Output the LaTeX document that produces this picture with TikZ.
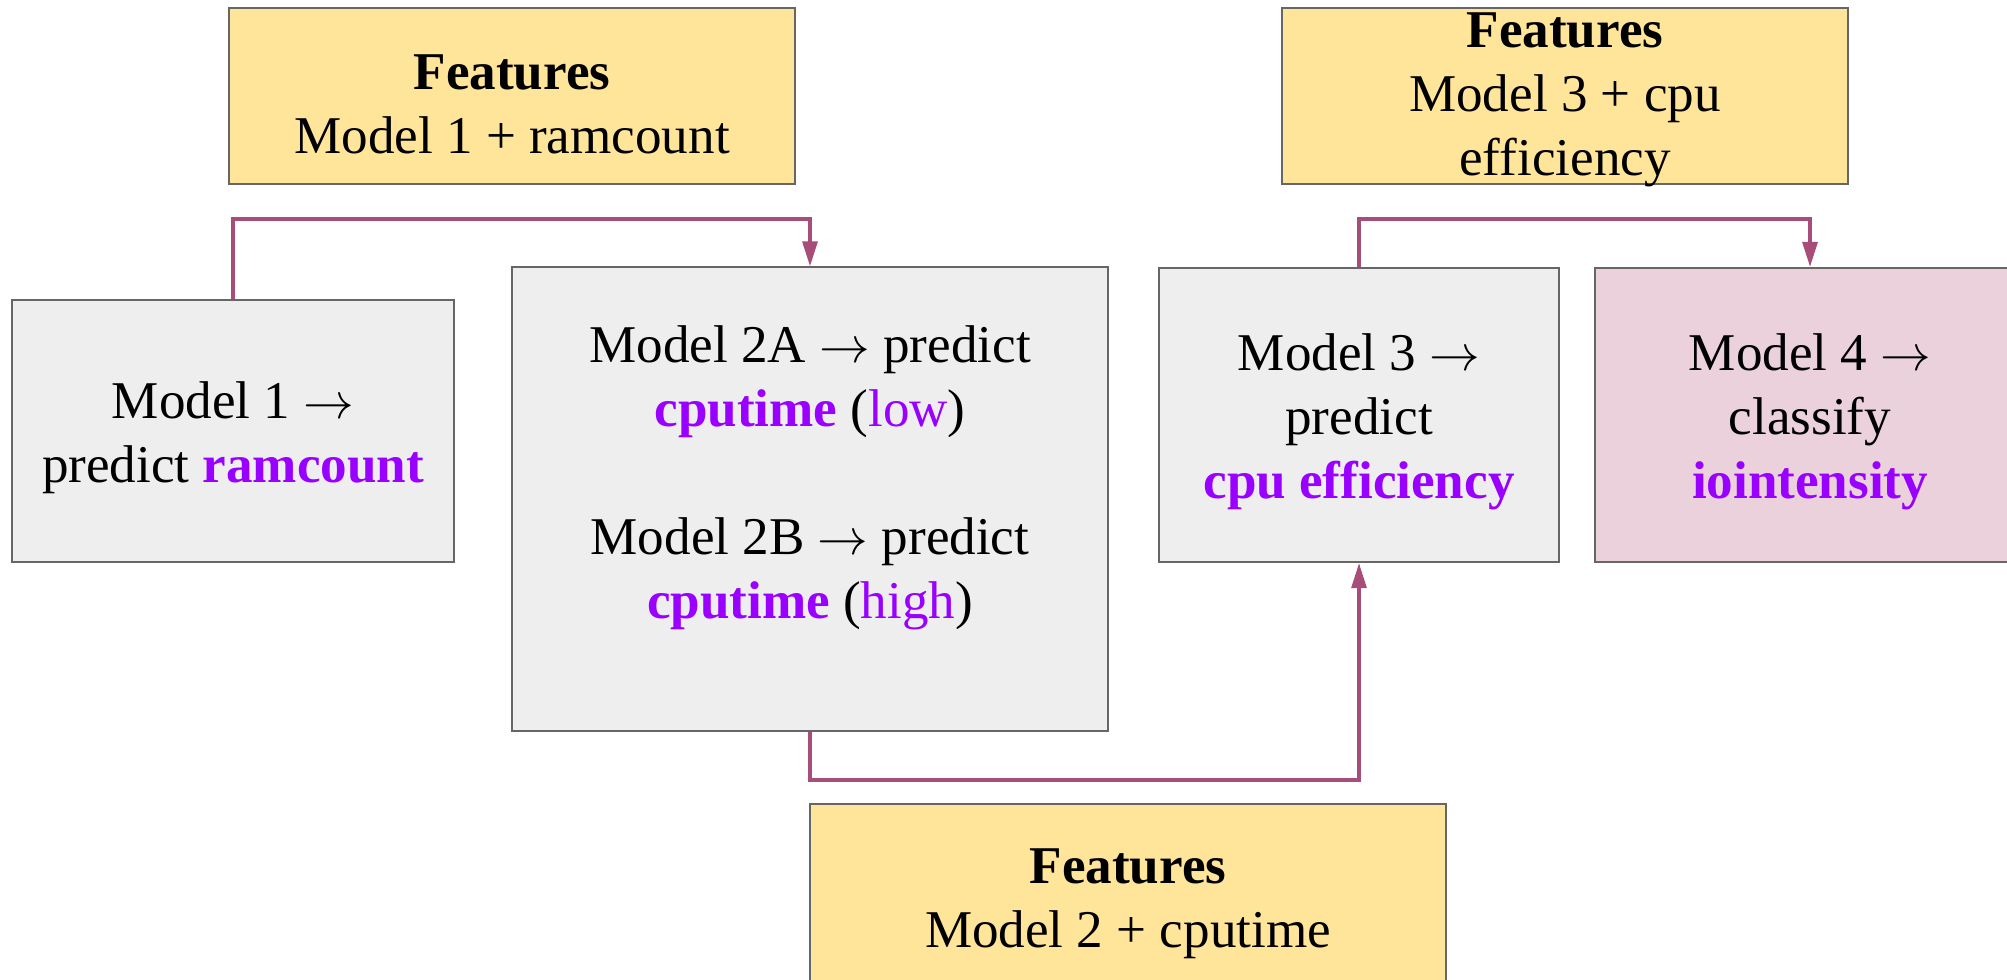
\documentclass[tikz,border=0pt]{standalone}
\usepackage{fontspec}
\setmainfont{Liberation Serif}
\usetikzlibrary{arrows.meta,positioning}

\definecolor{featfill}{HTML}{FFE599}
\definecolor{modfill}{HTML}{EEEEEE}
\definecolor{clsfill}{HTML}{EAD1DC}
\definecolor{boxline}{HTML}{666666}
\definecolor{linkcol}{HTML}{A64D79}
\definecolor{target}{HTML}{9900FF}

\newcommand{\tgt}[1]{\textcolor{target}{\textbf{#1}}}
\newcommand{\sub}[1]{\textcolor{target}{#1}}
\newcommand{\yields}{$\rightarrow$}
% taller first line, pushes the text block a bit lower
\newcommand{\lift}[1][14.5pt]{\rule{0pt}{#1}}

\begin{document}
\begin{tikzpicture}[x=0.01cm,y=-0.01cm,
  box/.style={draw=boxline, line width=0.6pt, align=center, inner sep=0pt,
    font=\fontsize{15.1}{18.2}\selectfont},
  feat/.style={box, fill=featfill},
  model/.style={box, fill=modfill},
  link/.style={draw=linkcol, line width=0.9pt, -{Triangle[length=0.25cm,width=0.15cm]}}]

\useasboundingbox (0,0) rectangle (2007,979);
\clip (0,0) rectangle (2007,979);

% feature boxes
\node[feat, minimum width=5.66cm, minimum height=1.76cm] (f1) at (512,96)
  {\lift\textbf{Features}\\ Model 1 + ramcount};
% three lines here, let the last one run over the frame
\node[feat, minimum width=5.65cm, minimum height=1.76cm,
  text height=1.58cm, text depth=0pt] (f3) at (1565,96)
  {\textbf{Features}\\ Model 3 + cpu\\ efficiency};
\node[feat, minimum width=6.36cm, minimum height=1.84cm] (f2) at (1128,896)
  {\lift\textbf{Features}\\ Model 2 + cputime};

% model boxes
\node[model, minimum width=4.41cm, minimum height=2.62cm] (m1) at (233,431)
  {\lift Model 1 \yields\\ predict \tgt{ramcount}};
\node[model, minimum width=5.95cm, minimum height=4.63cm] (m2) at (810,499)
  {\lift[19pt]Model 2A \yields{} predict\\ \tgt{cputime} (\sub{low})\\[18.2pt]
   Model 2B \yields{} predict\\ \tgt{cputime} (\sub{high})\\ \strut};
\node[model, minimum width=3.99cm, minimum height=2.94cm] (m3) at (1359,415)
  {\lift Model 3 \yields\\ predict\\ \tgt{cpu efficiency}};
\node[box, fill=clsfill, minimum width=4.30cm, minimum height=2.94cm] (m4) at (1810,415)
  {\lift Model 4 \yields\\ classify\\ \tgt{iointensity}};

% routing levels
\coordinate (upper) at (0,219);
\coordinate (lower) at (0,780);

% connectors
\draw[link] (m1.north) -- (m1.north |- upper) -| (m2.north);
\draw[link] (m3.north) -- (m3.north |- upper) -| (m4.north);
\draw[link] (m2.south) -- (m2.south |- lower) -| (m3.south);
\end{tikzpicture}
\end{document}
